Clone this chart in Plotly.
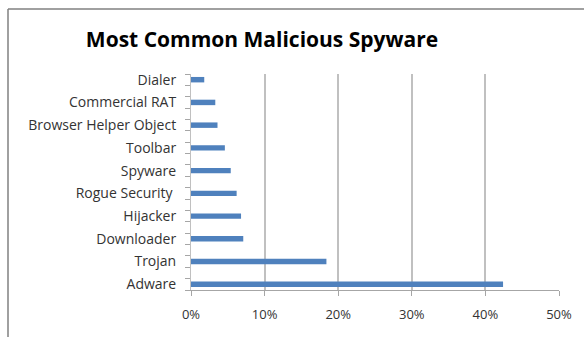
import plotly.graph_objects as go

categories = ["Adware", "Trojan", "Downloader", "Hijacker", "Rogue Security ",
              "Spyware", "Toolbar", "Browser Helper Object", "Commercial RAT", "Dialer"]
values = [0.424, 0.184, 0.071, 0.068, 0.062, 0.054, 0.046, 0.036, 0.033, 0.018]
x_ticks = [0, 0.1, 0.2, 0.3, 0.4, 0.5]
x_tick_labels = ["0%", "10%", "20%", "30%", "40%", "50%"]
title_text = "Most Common Malicious Spyware"

W, H = 584, 337
L, R, T, B = 191, 25, 74, 47
pw, ph = W - L - R, H - T - B

# Category slots: each category occupies two half-slots; bar sits in the lower one
n = len(categories)
slot_total = 2 * n - 1
y_pos = [2 * i + 0.5 for i in range(n)]

def px_x(p):
    return (p - L) / pw

def px_y(p):
    return (H - B - p) / ph

fig = go.Figure(go.Bar(
    x=values, y=y_pos, orientation="h",
    marker=dict(color="#4F81BD", line=dict(width=0)),
    width=0.48,
    hovertext=categories,
))

fig.update_layout(
    width=W, height=H,
    margin=dict(l=L, r=R, t=T, b=B),
    paper_bgcolor="white", plot_bgcolor="white",
    showlegend=False,
    font=dict(family="Open Sans, Liberation Sans, sans-serif", color="#333333", size=13),
    title=dict(text="<b>" + title_text + "</b>", xref="container", x=262 / W, xanchor="center",
               yref="container", y=1 - 40 / H, yanchor="middle",
               font=dict(size=21, color="#000000", family="Open Sans, sans-serif")),
    xaxis=dict(range=[0, 0.5], tickvals=x_ticks, ticktext=x_tick_labels,
               showgrid=True, gridcolor="#C0C0C0", gridwidth=2,
               showline=True, linecolor="#A6A6A6", linewidth=1,
               ticks="outside", ticklen=5, tickcolor="#A6A6A6",
               tickfont=dict(size=13, color="#333333"),
               ticklabelstandoff=7, zeroline=False, fixedrange=True),
    yaxis=dict(range=[0, slot_total], tickvals=y_pos, ticktext=categories,
               showline=True, linecolor="#C0C0C0", linewidth=1,
               ticks="outside", ticklen=5, tickcolor="rgba(0,0,0,0)",
               minor=dict(tickvals=list(range(slot_total + 1)), ticks="outside",
                          ticklen=5, tickcolor="#A6A6A6", showgrid=False),
               tickfont=dict(size=14, color="#333333"),
               ticklabelstandoff=6, showgrid=False, zeroline=False, fixedrange=True),
    shapes=[
        dict(type="line", xref="paper", yref="paper",
             x0=px_x(8), x1=px_x(600), y0=px_y(9), y1=px_y(9),
             line=dict(color="#808080", width=1.5)),
        dict(type="line", xref="paper", yref="paper",
             x0=px_x(8), x1=px_x(8), y0=px_y(9), y1=px_y(350),
             line=dict(color="#808080", width=1.5)),
    ],
)

fig.write_html("out.html")
